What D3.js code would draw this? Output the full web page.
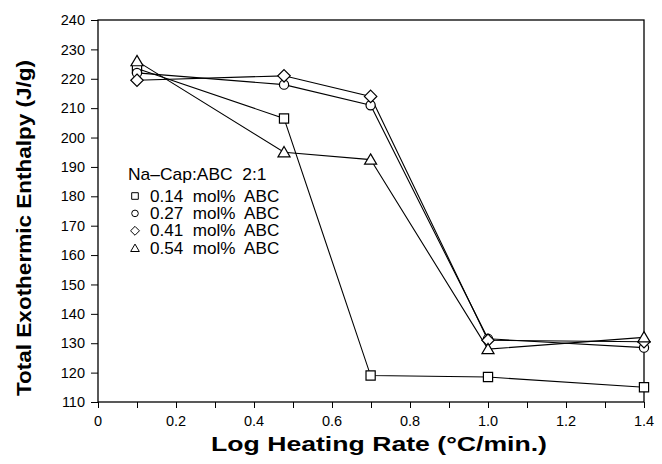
<!DOCTYPE html>
<html>
<head>
<meta charset="utf-8">
<script src="https://cdn.jsdelivr.net/npm/d3@7"></script>
<style>
  body { margin: 0; background: #fff; }
  text { font-family: "Liberation Sans", Arial, sans-serif; }
</style>
</head>
<body>
<div id="chart"></div>
<script>
// log heating rate values
var xVals = [0.1, 0.477, 0.699, 1.0, 1.4];

var seriesNames = ["0.14  mol%  ABC", "0.27  mol%  ABC", "0.41  mol%  ABC", "0.54  mol%  ABC"];
var seriesSymbols = ["square", "circle", "diamond", "triangle"];

var s014 = [223.5, 206.5, 119, 118.5, 115];
var s027 = [222, 218, 211, 131.5, 128.5];
var s041 = [219.5, 221, 214, 131, 130.5];
var s054 = [226, 195, 192.5, 128, 132];

var xTicks = [0, 0.2, 0.4, 0.6, 0.8, 1.0, 1.2, 1.4];
var yTicks = [110, 120, 130, 140, 150, 160, 170, 180, 190, 200, 210, 220, 230, 240];

const width = 662, height = 464;
const margin = {left: 98, right: 18, top: 20, bottom: 62};

const svg = d3.select("#chart").append("svg")
    .attr("width", width)
    .attr("height", height);

var x = d3.scaleLinear().domain([0, 1.4]).range([margin.left, width - margin.right]);
var y = d3.scaleLinear().domain([110, 240]).range([height - margin.bottom, margin.top]);

// frame
svg.append("rect")
    .attr("x", x(0)).attr("y", y(240))
    .attr("width", x(1.4) - x(0)).attr("height", y(110) - y(240))
    .attr("fill", "none").attr("stroke", "#000").attr("stroke-width", 1.3);

// x axis, minor ticks every 0.1, labels every 0.2
var xAxis = svg.append("g")
    .attr("transform", "translate(0," + y(110) + ")")
    .call(d3.axisBottom(x).tickValues(d3.range(0, 1.41, 0.1)).tickSize(6).tickFormat(""));
xAxis.select(".domain").remove();

svg.append("g").selectAll("text")
    .data(xTicks)
    .enter().append("text")
    .attr("x", function(d){ return x(d); })
    .attr("y", y(110) + 24)
    .attr("text-anchor", "middle")
    .style("font-size", "14.5px")
    .text(function(d){ return d === 0 ? "0" : d.toFixed(1); });

var yAxis = svg.append("g")
    .attr("transform", "translate(" + x(0) + ",0)")
    .call(d3.axisLeft(y).tickValues(yTicks).tickSize(7).tickPadding(6));
yAxis.select(".domain").remove();
yAxis.selectAll("text")
    .style("font-size", "14.5px")
    .style("font-family", "'Liberation Sans', Arial, sans-serif")
    .attr("fill", "#000");

// axis titles
svg.append("text")
    .attr("x", 379)
    .attr("y", 451)
    .attr("text-anchor", "middle")
    .attr("textLength", 336)
    .attr("lengthAdjust", "spacingAndGlyphs")
    .style("font-size", "21px")
    .style("font-weight", "bold")
    .text("Log Heating Rate (°C/min.)");

svg.append("text")
    .attr("transform", "translate(31,228) rotate(-90)")
    .attr("text-anchor", "middle")
    .attr("textLength", 336)
    .attr("lengthAdjust", "spacingAndGlyphs")
    .style("font-size", "21px")
    .style("font-weight", "bold")
    .text("Total Exothermic Enthalpy (J/g)");

// symbol paths
function symbolPath(kind, s) {
    if (kind == "square") return "M" + (-s) + "," + (-s) + "h" + (2*s) + "v" + (2*s) + "h" + (-2*s) + "Z";
    if (kind == "circle") return d3.symbol().type(d3.symbolCircle).size(Math.PI * s * s)();
    if (kind == "diamond") { var d = s * 1.35; return "M0," + (-d) + "L" + d + ",0L0," + d + "L" + (-d) + ",0Z"; }
    var t = s * 1.25;
    return "M0," + (-t) + "L" + (t*1.05) + "," + (t*0.8) + "L" + (-t*1.05) + "," + (t*0.8) + "Z";
}

var allSeries = [s014, s027, s041, s054];
var line = d3.line()
    .x(function(d, i){ return x(xVals[i]); })
    .y(function(d){ return y(d); });

allSeries.forEach(function(vals, k){
    svg.append("path")
        .datum(vals)
        .attr("d", line)
        .attr("fill", "none")
        .attr("stroke", "#000")
        .attr("stroke-width", 1.1);
});

allSeries.forEach(function(vals, k){
    svg.append("g").selectAll("path")
        .data(vals)
        .enter().append("path")
        .attr("transform", function(d, i){ return "translate(" + x(xVals[i]) + "," + y(d) + ")"; })
        .attr("d", symbolPath(seriesSymbols[k], 4.6))
        .attr("fill", "#fff")
        .attr("stroke", "#000")
        .attr("stroke-width", 1.2);
});

// legend
var legX = 128, legY = 180;
svg.append("text")
    .attr("transform", "translate(" + legX + "," + legY + ") scale(1.09,1)")
    .style("font-size", "16px")
    .style("white-space", "pre")
    .text("Na\u2013Cap:ABC  2:1");

seriesNames.forEach(function(name, k){
    var cy = legY + 16 + k * 17.4;
    svg.append("path")
        .attr("transform", "translate(" + (legX + 7) + "," + cy + ")")
        .attr("d", symbolPath(seriesSymbols[k], 3.3))
        .attr("fill", "#fff")
        .attr("stroke", "#000")
        .attr("stroke-width", 1);
    svg.append("text")
        .attr("transform", "translate(" + (legX + 22) + "," + (cy + 5.5) + ") scale(1.07,1)")
        .style("font-size", "16px")
        .style("white-space", "pre")
        .text(name);
});
</script>
</body>
</html>
